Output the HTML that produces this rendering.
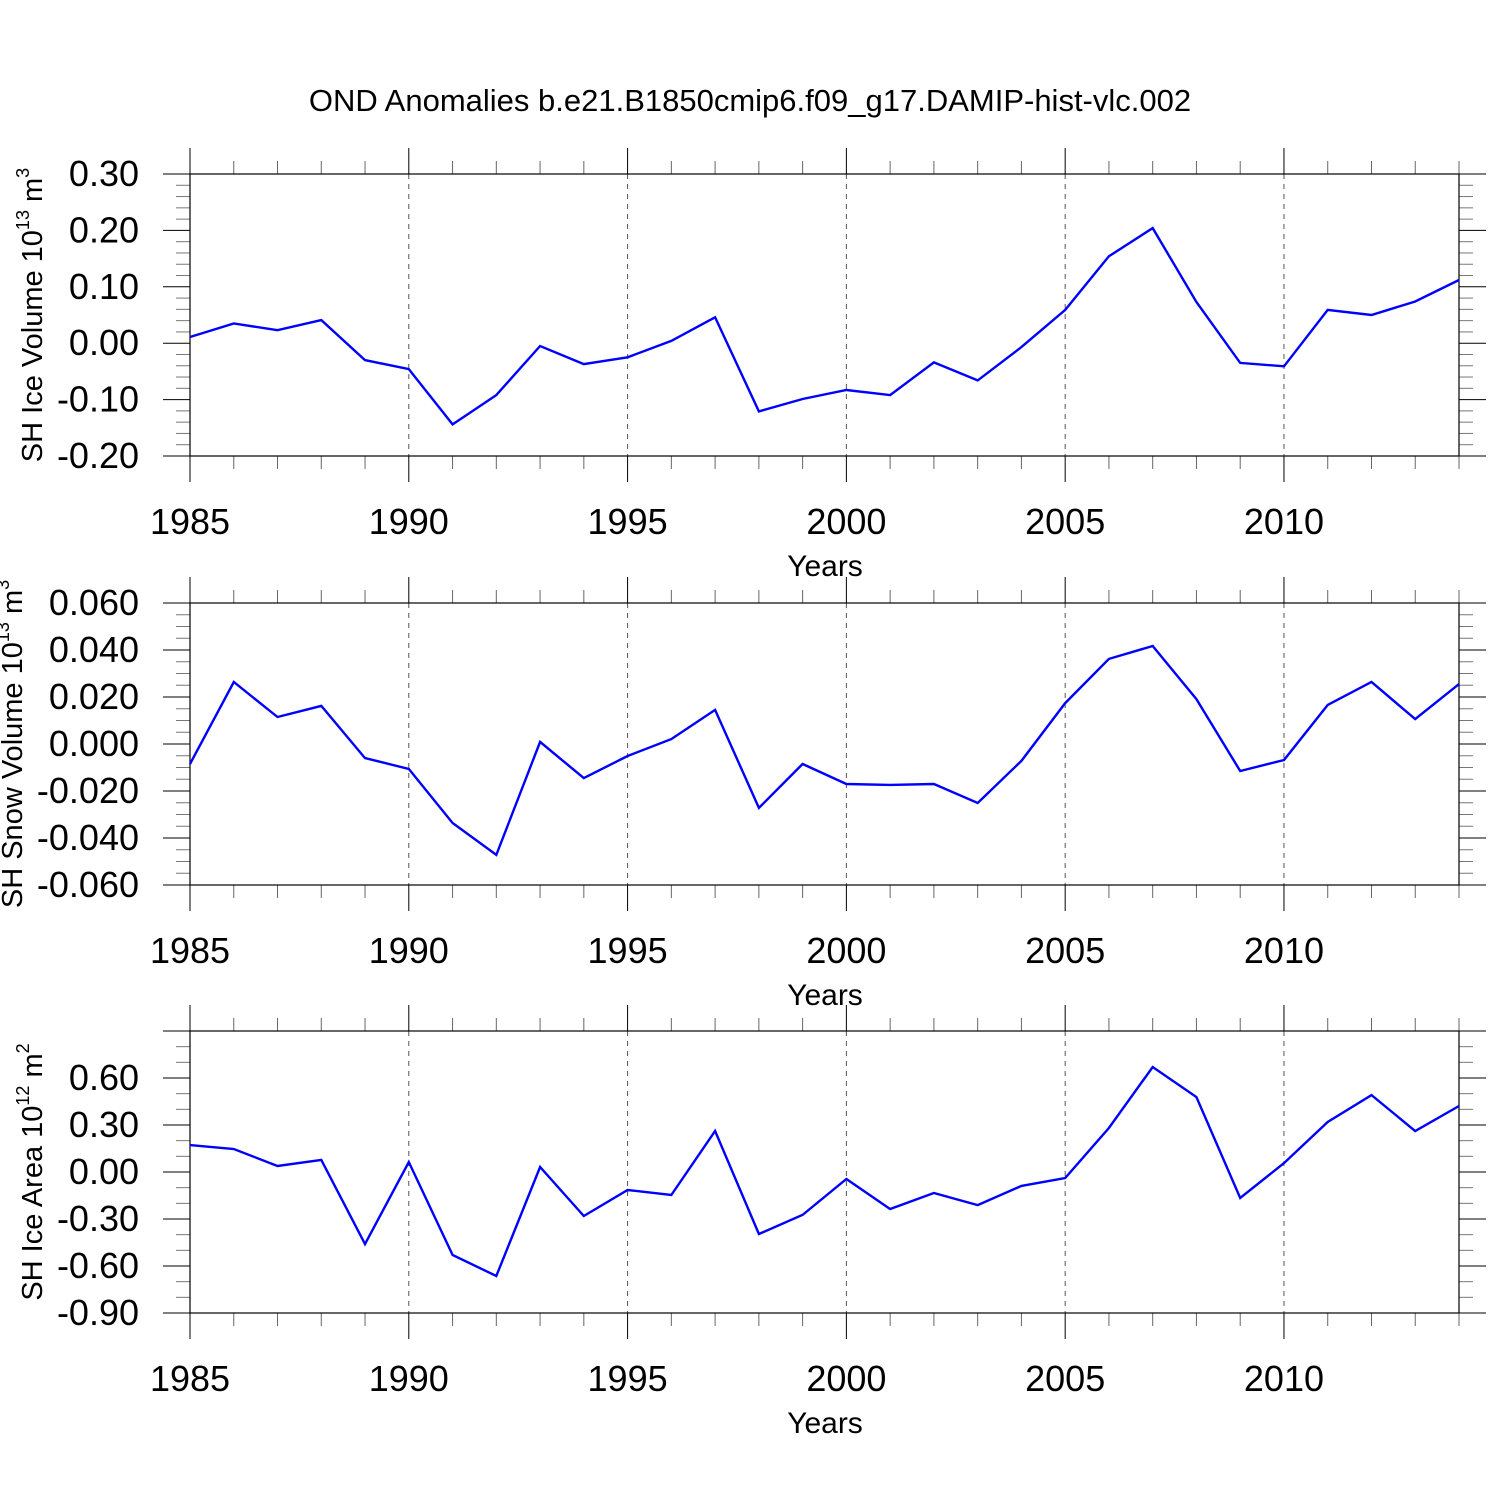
<!DOCTYPE html>
<html><head><meta charset="utf-8">
<style>
html,body{margin:0;padding:0;background:#fff;}
svg{display:block;font-family:"Liberation Sans",sans-serif;}
</style></head>
<body>
<svg id="chart" width="1500" height="1500" viewBox="0 0 1500 1500" xmlns="http://www.w3.org/2000/svg">
<rect width="1500" height="1500" fill="#fff"/>
<text x="750" y="111" font-size="31" text-anchor="middle">OND Anomalies b.e21.B1850cmip6.f09_g17.DAMIP-hist-vlc.002</text>
</svg>
<script>
const years = [1985,1986,1987,1988,1989,1990,1991,1992,1993,1994,1995,1996,1997,1998,1999,2000,2001,2002,2003,2004,2005,2006,2007,2008,2009,2010,2011,2012,2013,2014];
const iceVolume = [0.011,0.035,0.023,0.041,-0.030,-0.046,-0.144,-0.092,-0.005,-0.037,-0.025,0.004,0.046,-0.121,-0.099,-0.083,-0.092,-0.034,-0.066,-0.007,0.059,0.154,0.204,0.073,-0.035,-0.041,0.059,0.050,0.074,0.112];
const snowVolume = [-0.0085,0.0264,0.0115,0.0162,-0.006,-0.0106,-0.0336,-0.0472,0.0009,-0.0145,-0.0051,0.0021,0.0145,-0.0272,-0.0085,-0.017,-0.0174,-0.017,-0.0251,-0.0072,0.0174,0.0362,0.0417,0.0191,-0.0115,-0.0068,0.0166,0.0264,0.0106,0.0255];
const iceArea = [0.172,0.147,0.038,0.077,-0.46,0.064,-0.53,-0.664,0.032,-0.281,-0.115,-0.147,0.262,-0.396,-0.274,-0.045,-0.236,-0.134,-0.211,-0.089,-0.038,0.281,0.670,0.479,-0.166,0.057,0.319,0.491,0.262,0.421];
const xTickLabels = ["1985","1990","1995","2000","2005","2010"];
const iceVolTicks = ["0.30","0.20","0.10","0.00","-0.10","-0.20"];
const snowVolTicks = ["0.060","0.040","0.020","0.000","-0.020","-0.040","-0.060"];
const iceAreaTicks = ["0.60","0.30","0.00","-0.30","-0.60","-0.90"];

const NS="http://www.w3.org/2000/svg";
const svg=document.getElementById('chart');
function mk(tag,attrs,parent){const e=document.createElementNS(NS,tag);for(const k in attrs)e.setAttribute(k,attrs[k]);(parent||svg).appendChild(e);return e;}

const X0=190,X1=1459;
function xScale(yr){return X0+(yr-1985)*(X1-X0)/(2014-1985);}

function panel(cfg){
  const g=mk('g',{});
  
  
  const top=cfg.top,bot=cfg.top+282;
  const yS=v=>bot-(v-cfg.min)/(cfg.max-cfg.min)*(bot-top);
  for(let yr=1990;yr<=2010;yr+=5){
    const l=mk('line',{x1:xScale(yr),x2:xScale(yr),y1:top,y2:bot,stroke:'#555','stroke-width':1,'stroke-dasharray':'5,5'},g);
    
    
  }
  for(let yr=1985;yr<=2014;yr++){
    const x=xScale(yr), major=(yr%5===0);
    const len=major?26:13;
    mk('line',{x1:x,x2:x,y1:top-len,y2:top,stroke:major?'#000':'#666','stroke-width':1},g);
    mk('line',{x1:x,x2:x,y1:bot,y2:bot+len,stroke:major?'#000':'#666','stroke-width':1},g);
  }
  xTickLabels.forEach(s=>{
    const t=mk('text',{x:xScale(+s),y:bot+78,'font-size':36,'text-anchor':'middle'},g);
    t.textContent=s;
    
    
  });
  for(let v=cfg.min;v<=cfg.max+1e-9;v+=cfg.minor){
    const y=yS(v);
    const isMaj=Math.abs(Math.round((v-cfg.min)/cfg.major)*cfg.major-(v-cfg.min))<1e-9;
    const len=isMaj?27:14;
    mk('line',{x1:X0-len,x2:X0,y1:y,y2:y,stroke:isMaj?'#000':'#777','stroke-width':1},g);
    mk('line',{x1:X1,x2:X1+len,y1:y,y2:y,stroke:isMaj?'#000':'#777','stroke-width':1},g);
  }
  cfg.ticks.forEach(s=>{
    const t=mk('text',{x:139,y:yS(parseFloat(s))+12,'font-size':36,'text-anchor':'end'},g);
    t.textContent=s;
    
    
  });
  const f=mk('rect',{x:X0,y:top,width:X1-X0,height:bot-top,fill:'none',stroke:'#000','stroke-width':1.2},g);
  
  
  const pts=cfg.data.map((v,i)=>xScale(years[i]).toFixed(1)+','+yS(v).toFixed(1)).join(' ');
  const pl=mk('polyline',{points:pts,fill:'none',stroke:'#0000ff','stroke-width':2.4,'stroke-linejoin':'miter'},g);
  
  
  const xt=mk('text',{x:825,y:bot+120,'font-size':30,'text-anchor':'middle'},g);
  xt.textContent='Years';
  
  
  const cy=(top+bot)/2;
  const yt=mk('text',{x:cfg.ytx,y:cy,'font-size':29,'text-anchor':'middle',transform:`rotate(-90 ${cfg.ytx} ${cy})`},g);
  
  
  yt.innerHTML=cfg.ytitle;
}

panel({name:'ice-volume-panel',top:174,min:-0.20,max:0.30,major:0.1,minor:0.02,ticks:iceVolTicks,data:iceVolume,ytx:42,
  ytitle:'SH Ice Volume 10<tspan font-size="18" dy="-13">13</tspan><tspan dy="13"> m</tspan><tspan font-size="18" dy="-13">3</tspan>'});
panel({name:'snow-volume-panel',top:603,min:-0.06,max:0.06,major:0.02,minor:0.005,ticks:snowVolTicks,data:snowVolume,ytx:22,
  ytitle:'SH Snow Volume 10<tspan font-size="18" dy="-13">13</tspan><tspan dy="13"> m</tspan><tspan font-size="18" dy="-13">3</tspan>'});
panel({name:'ice-area-panel',top:1031,min:-0.9,max:0.9,major:0.3,minor:0.1,ticks:iceAreaTicks,data:iceArea,ytx:42,
  ytitle:'SH Ice Area 10<tspan font-size="18" dy="-13">12</tspan><tspan dy="13"> m</tspan><tspan font-size="18" dy="-13">2</tspan>'});
</script>
</body></html>
